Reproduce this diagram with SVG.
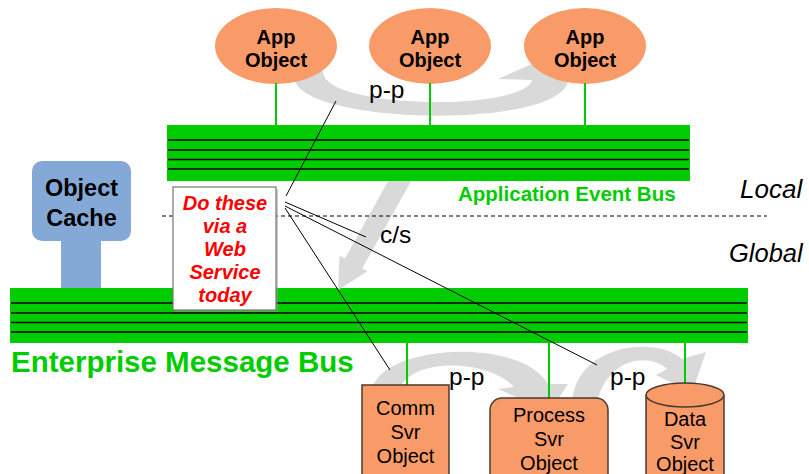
<svg xmlns="http://www.w3.org/2000/svg" width="809" height="474" viewBox="0 0 809 474">
<style>
.bold{font-family:"Liberation Sans",Arial,sans-serif;font-weight:bold;}
.reg{font-family:"Liberation Sans",Arial,sans-serif;}
.app{fill:#F99B69;}
.box{fill:#F99B69;stroke:#4a3a30;stroke-width:1.5;}
.bus{fill:#00CC00;}
.busline{stroke:#000;stroke-width:1.5;}
.vline{stroke:#00CC00;stroke-width:2;}
.gray{fill:#D9D9D9;}
.blk{stroke:#000;stroke-width:1;fill:none;}
.t20b{font-size:20px;text-anchor:middle;fill:#000;}
.t20{font-size:20px;text-anchor:middle;fill:#000;}
.lbl{font-size:24.5px;fill:#000;}
</style>
<rect width="809" height="474" fill="#fff"/>

<g id="connectors">
  <!-- top p-p curved arrow -->
  <path class="gray" d="M 293 70 L 294 78 C 300 125, 555 130, 568 82 L 600 80 L 575 45 L 498 79 L 532 80 C 525 110, 340 110, 324 76 L 322 68 Z"/>
</g>

<g id="app1"><ellipse class="app" cx="276" cy="46" rx="61" ry="38"/>
  <text class="bold t20b" x="276" y="44">App</text><text class="bold t20b" x="276" y="67">Object</text></g>
<g id="app2"><ellipse class="app" cx="430" cy="46" rx="61" ry="38"/>
  <text class="bold t20b" x="430" y="44">App</text><text class="bold t20b" x="430" y="67">Object</text></g>
<g id="app3"><ellipse class="app" cx="585" cy="46" rx="61" ry="38"/>
  <text class="bold t20b" x="585" y="44">App</text><text class="bold t20b" x="585" y="67">Object</text></g>

<g id="app-links">
  <line class="vline" x1="276" y1="83" x2="276" y2="126"/>
  <line class="vline" x1="430" y1="83" x2="430" y2="126"/>
  <line class="vline" x1="585" y1="83" x2="585" y2="126"/>
</g>

<g id="app-bus">
  <rect class="bus" x="167" y="125" width="523" height="56"/>
  <line class="busline" x1="168" y1="140" x2="689" y2="140"/>
  <line class="busline" x1="168" y1="150" x2="689" y2="150"/>
  <line class="busline" x1="168" y1="159.5" x2="689" y2="159.5"/>
  <line class="busline" x1="168" y1="169" x2="689" y2="169"/>
  <text class="bold" x="458" y="201" font-size="20.5" fill="#00CC00">Application Event Bus</text>
</g>

<g id="object-cache">
  <rect x="61" y="235" width="40" height="54" fill="#85A9D6"/>
  <rect x="32" y="161" width="99" height="80" rx="10" fill="#85A9D6"/>
  <text class="bold" x="81.5" y="196" font-size="23.5" text-anchor="middle">Object</text>
  <text class="bold" x="81.5" y="226" font-size="23.5" text-anchor="middle">Cache</text>
</g>

<g id="enterprise-bus">
  <rect class="bus" x="10" y="288" width="738" height="55"/>
  <line class="busline" x1="11" y1="303" x2="747" y2="303"/>
  <line class="busline" x1="11" y1="313" x2="747" y2="313"/>
  <line class="busline" x1="11" y1="322.5" x2="747" y2="322.5"/>
  <line class="busline" x1="11" y1="332" x2="747" y2="332"/>
  <text class="bold" x="11" y="372" font-size="29.5" fill="#00CC00">Enterprise Message Bus</text>
</g>

<g id="connectors-2">
  <!-- c/s arrow -->
  <polygon class="gray" points="388.2,181 411.1,181 362.2,268.4 367.5,271.3 338,290 339.5,255.7 344.8,258.6"/>
  <!-- bottom p-p arrows -->
  <path class="gray" d="M 372 392 C 375 345, 520 335, 548 384 L 568 384 L 550 412 L 498 389 L 514 387 C 490 360, 410 355, 398 392 Z"/>
  <path class="gray" d="M 572 402 C 576 345, 655 335, 682 359 L 706 352 L 692 393 L 656 375 L 667 369 C 648 352, 608 358, 597 402 Z"/>
  <line class="vline" x1="407" y1="343" x2="407" y2="386"/>
  <line class="vline" x1="549" y1="343" x2="549" y2="399"/>
  <line class="vline" x1="685" y1="343" x2="685" y2="384"/>
</g>

<g id="comm">
  <rect class="box" x="362" y="385" width="87" height="100"/>
  <text class="reg t20" x="405.5" y="415">Comm</text>
  <text class="reg t20" x="405.5" y="439">Svr</text>
  <text class="reg t20" x="405.5" y="463">Object</text>
</g>
<g id="process">
  <rect class="box" x="490" y="398" width="118" height="100" rx="12"/>
  <text class="reg t20" x="549" y="422">Process</text>
  <text class="reg t20" x="549" y="446">Svr</text>
  <text class="reg t20" x="549" y="470">Object</text>
</g>
<g id="data">
  <path class="box" d="M 646 395 L 646 490 L 724 490 L 724 395"/>
  <ellipse class="box" cx="685" cy="395" rx="39" ry="12"/>
  <text class="reg t20" x="685" y="426">Data</text>
  <text class="reg t20" x="685" y="449">Svr</text>
  <text class="reg t20" x="685" y="471">Object</text>
</g>

<g id="divider">
  <line x1="162" y1="216" x2="767" y2="216" stroke="#000" stroke-width="1" stroke-dasharray="4 3"/>
  <text class="reg" x="740" y="198" font-size="26" font-style="italic">Local</text>
  <text class="reg" x="729" y="262" font-size="25.5" font-style="italic">Global</text>
</g>

<g id="note">
  <rect x="175" y="189" width="103" height="123" fill="#999" opacity="0.5"/>
  <rect x="173" y="187" width="103" height="123" fill="#fff" stroke="#777" stroke-width="1.2"/>
  <g class="bold" font-size="20" font-style="italic" fill="#FF0000" text-anchor="middle">
    <text x="225" y="210">Do these</text>
    <text x="225" y="233">via a</text>
    <text x="225" y="256">Web</text>
    <text x="225" y="279">Service</text>
    <text x="225" y="302">today</text>
  </g>
</g>

<g id="callout-lines">
  <line class="blk" x1="286" y1="196" x2="336" y2="101"/>
  <line class="blk" x1="285" y1="202" x2="366" y2="237"/>
  <line class="blk" x1="285" y1="206" x2="597" y2="365"/>
  <line class="blk" x1="285" y1="208" x2="390" y2="370"/>
</g>

<g id="labels">
  <text class="reg lbl" x="369" y="98">p-p</text>
  <text class="reg lbl" x="380" y="243">c/s</text>
  <text class="reg lbl" x="449" y="385">p-p</text>
  <text class="reg lbl" x="610" y="385">p-p</text>
</g>
</svg>
